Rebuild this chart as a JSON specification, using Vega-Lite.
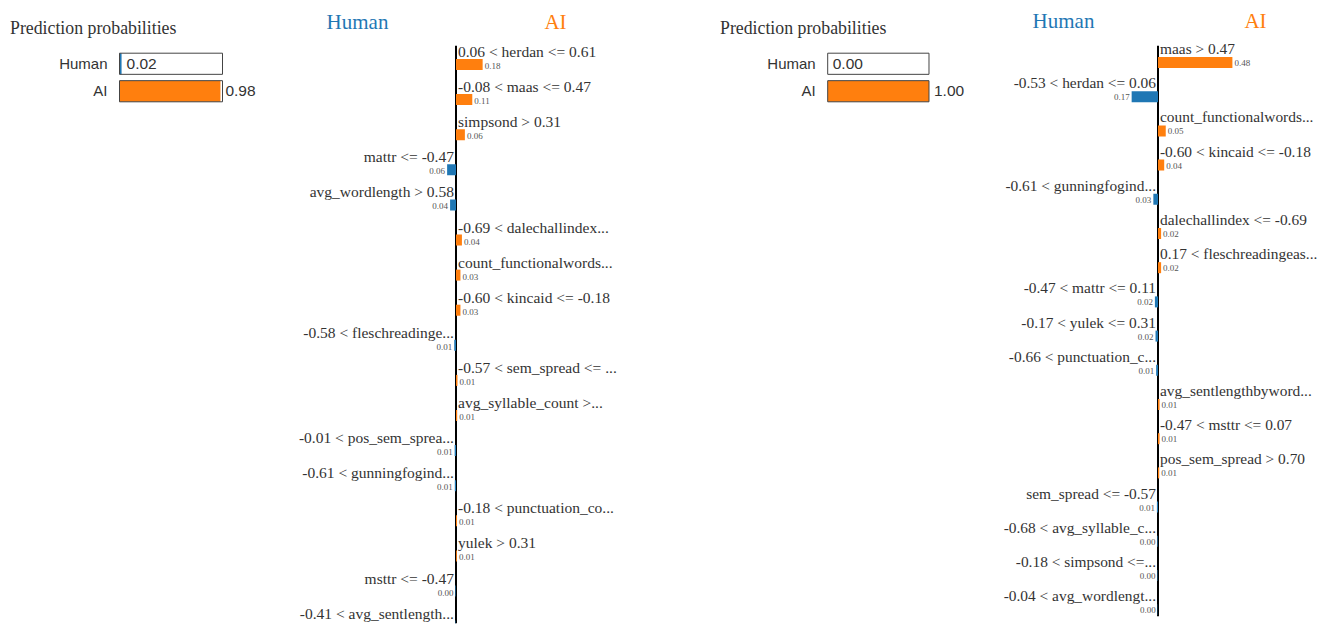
{
  "$schema": "https://vega.github.io/schema/vega-lite/v6.json",
  "background": "white",
  "padding": {"left": 0, "top": 9.5, "right": 0, "bottom": 0},
  "spacing": 0,
  "bounds": "flush",
  "config": {"view": {"stroke": null}, "scale": {"continuousPadding": 0}},
  "datasets": {
    "probs1": [
      {"class": "Human", "prob": 0.02},
      {"class": "AI", "prob": 0.98}
    ],
    "probs2": [
      {"class": "Human", "prob": 0.0},
      {"class": "AI", "prob": 1.0}
    ],
    "weights1": [
      {"rank": 1, "feature": "0.06 < herdan <= 0.61", "side": "AI", "value": 0.18},
      {"rank": 2, "feature": "-0.08 < maas <= 0.47", "side": "AI", "value": 0.11},
      {"rank": 3, "feature": "simpsond > 0.31", "side": "AI", "value": 0.06},
      {"rank": 4, "feature": "mattr <= -0.47", "side": "Human", "value": 0.06},
      {"rank": 5, "feature": "avg_wordlength > 0.58", "side": "Human", "value": 0.04},
      {"rank": 6, "feature": "-0.69 < dalechallindex...", "side": "AI", "value": 0.04},
      {"rank": 7, "feature": "count_functionalwords...", "side": "AI", "value": 0.03},
      {"rank": 8, "feature": "-0.60 < kincaid <= -0.18", "side": "AI", "value": 0.03},
      {"rank": 9, "feature": "-0.58 < fleschreadinge...", "side": "Human", "value": 0.012},
      {"rank": 10, "feature": "-0.57 < sem_spread <= ...", "side": "AI", "value": 0.01},
      {"rank": 11, "feature": "avg_syllable_count >...", "side": "AI", "value": 0.008},
      {"rank": 12, "feature": "-0.01 < pos_sem_sprea...", "side": "Human", "value": 0.009},
      {"rank": 13, "feature": "-0.61 < gunningfogind...", "side": "Human", "value": 0.008},
      {"rank": 14, "feature": "-0.18 < punctuation_co...", "side": "AI", "value": 0.007},
      {"rank": 15, "feature": "yulek > 0.31", "side": "AI", "value": 0.006},
      {"rank": 16, "feature": "msttr <= -0.47", "side": "Human", "value": 0.004},
      {"rank": 17, "feature": "-0.41 < avg_sentlength...", "side": "Human", "value": 0.003}
    ],
    "weights2": [
      {"rank": 1, "feature": "maas > 0.47", "side": "AI", "value": 0.48},
      {"rank": 2, "feature": "-0.53 < herdan <= 0.06", "side": "Human", "value": 0.17},
      {"rank": 3, "feature": "count_functionalwords...", "side": "AI", "value": 0.05},
      {"rank": 4, "feature": "-0.60 < kincaid <= -0.18", "side": "AI", "value": 0.04},
      {"rank": 5, "feature": "-0.61 < gunningfogind...", "side": "Human", "value": 0.03},
      {"rank": 6, "feature": "dalechallindex <= -0.69", "side": "AI", "value": 0.02},
      {"rank": 7, "feature": "0.17 < fleschreadingeas...", "side": "AI", "value": 0.02},
      {"rank": 8, "feature": "-0.47 < mattr <= 0.11", "side": "Human", "value": 0.02},
      {"rank": 9, "feature": "-0.17 < yulek <= 0.31", "side": "Human", "value": 0.016},
      {"rank": 10, "feature": "-0.66 < punctuation_c...", "side": "Human", "value": 0.012},
      {"rank": 11, "feature": "avg_sentlengthbyword...", "side": "AI", "value": 0.01},
      {"rank": 12, "feature": "-0.47 < msttr <= 0.07", "side": "AI", "value": 0.01},
      {"rank": 13, "feature": "pos_sem_spread > 0.70", "side": "AI", "value": 0.008},
      {"rank": 14, "feature": "sem_spread <= -0.57", "side": "Human", "value": 0.007},
      {"rank": 15, "feature": "-0.68 < avg_syllable_c...", "side": "Human", "value": 0.004},
      {"rank": 16, "feature": "-0.18 < simpsond <=...", "side": "Human", "value": 0.003},
      {"rank": 17, "feature": "-0.04 < avg_wordlengt...", "side": "Human", "value": 0.002}
    ]
  },
  "hconcat": [
    {
      "width": 290,
      "height": 64,
      "title": {"text": "Prediction probabilities", "anchor": "start", "dx": 10, "offset": 8, "font": "Liberation Serif", "fontSize": 17.8, "fontWeight": "normal", "color": "#333"},
      "data": {"name": "probs1"},
      "layer": [
        {
          "mark": {"type": "bar", "orient": "horizontal"},
          "encoding": {
            "y": {"field": "class", "type": "nominal", "sort": ["Human", "AI"], "scale": {"paddingInner": 0.23, "paddingOuter": 0.28}, "axis": null},
            "x": {"field": "prob", "type": "quantitative", "scale": {"domain": [-1.1602, 1.6553], "nice": false, "zero": false}, "axis": null},
            "x2": {"datum": 0},
            "color": {"field": "class", "type": "nominal", "scale": {"domain": ["Human", "AI"], "range": ["#1f77b4", "#ff7f0e"]}, "legend": null}
          }
        },
        {
          "mark": {"type": "bar", "orient": "horizontal", "fill": "transparent", "stroke": "#444", "strokeWidth": 1},
          "encoding": {
            "y": {"field": "class", "type": "nominal", "sort": ["Human", "AI"], "scale": {"paddingInner": 0.23, "paddingOuter": 0.28}, "axis": null},
            "x": {"datum": 0, "type": "quantitative", "scale": {"domain": [-1.1602, 1.6553], "nice": false, "zero": false}, "axis": null},
            "x2": {"datum": 1}
          }
        },
        {
          "mark": {"type": "text", "align": "right", "baseline": "middle", "dx": -12, "font": "Liberation Sans", "fontSize": 15, "color": "#333"},
          "encoding": {
            "y": {"field": "class", "type": "nominal", "sort": ["Human", "AI"], "scale": {"paddingInner": 0.23, "paddingOuter": 0.28}, "axis": null},
            "x": {"datum": 0, "type": "quantitative", "scale": {"domain": [-1.1602, 1.6553], "nice": false, "zero": false}, "axis": null},
            "text": {"field": "class"}
          }
        },
        {
          "mark": {"type": "text", "align": "left", "baseline": "middle", "dx": 5, "font": "Liberation Sans", "fontSize": 15.5, "color": "#333"},
          "encoding": {
            "y": {"field": "class", "type": "nominal", "sort": ["Human", "AI"], "scale": {"paddingInner": 0.23, "paddingOuter": 0.28}, "axis": null},
            "x": {"field": "prob", "type": "quantitative", "scale": {"domain": [-1.1602, 1.6553], "nice": false, "zero": false}, "axis": null},
            "text": {"field": "prob", "format": ".2f"}
          }
        }
      ]
    },
    {
      "width": 420,
      "height": 578,
      "data": {"name": "weights1"},
      "resolve": {"scale": {"x": "independent"}},
      "layer": [
        {
          "data": {"values": [{}]},
          "mark": {"type": "rule", "color": "#000", "strokeWidth": 2, "clip": true},
          "encoding": {
            "x": {"datum": 0, "type": "quantitative", "scale": {"domain": [-1.1216, 1.7162], "nice": false, "zero": false},
              "axis": {"orient": "top", "values": [-0.669, 0.669], "labelExpr": "datum.value < 0 ? 'Human' : 'AI'", "domain": false, "ticks": false, "tickSize": 0, "grid": false, "title": null, "labelFont": "Liberation Serif", "labelFontSize": 21, "labelPadding": 13, "labelFlush": false, "labelOverlap": false, "labelBound": false,
                "labelColor": {"condition": {"test": "datum.value < 0", "value": "#1f77b4"}, "value": "#ff7f0e"}}}
          }
        },
        {
          "transform": [{"filter": "datum.side == 'AI'"}],
          "mark": {"type": "bar", "orient": "horizontal", "size": 11, "yOffset": 12.5, "color": "#ff7f0e", "clip": true},
          "encoding": {
            "x": {"field": "value", "type": "quantitative", "scale": {"domain": [-1.1216, 1.7162], "nice": false, "zero": false}, "axis": null},
            "x2": {"datum": 0},
            "y": {"field": "rank", "type": "quantitative", "scale": {"domain": [0.8148, 17.282], "nice": false, "zero": false, "padding": 0, "reverse": true}, "axis": null}
          }
        },
        {
          "transform": [{"filter": "datum.side == 'Human'"}],
          "mark": {"type": "bar", "orient": "horizontal", "size": 11, "yOffset": 12.5, "color": "#1f77b4", "clip": true},
          "encoding": {
            "x": {"field": "value", "type": "quantitative", "scale": {"domain": [-1.7162, 1.1216], "nice": false, "zero": false, "reverse": true}, "axis": null},
            "x2": {"datum": 0},
            "y": {"field": "rank", "type": "quantitative", "scale": {"domain": [0.8148, 17.282], "nice": false, "zero": false, "padding": 0, "reverse": true}, "axis": null}
          }
        },
        {
          "transform": [{"filter": "datum.side == 'AI'"}],
          "mark": {"type": "text", "align": "left", "baseline": "middle", "dx": 2, "font": "Liberation Serif", "fontSize": 15.5, "color": "#333", "clip": true},
          "encoding": {
            "x": {"datum": 0, "type": "quantitative", "scale": {"domain": [-1.1216, 1.7162], "nice": false, "zero": false}, "axis": null},
            "y": {"field": "rank", "type": "quantitative", "scale": {"domain": [0.8148, 17.282], "nice": false, "zero": false, "padding": 0, "reverse": true}, "axis": null},
            "text": {"field": "feature"}
          }
        },
        {
          "transform": [{"filter": "datum.side == 'Human'"}],
          "mark": {"type": "text", "align": "right", "baseline": "middle", "dx": -2, "font": "Liberation Serif", "fontSize": 15.5, "color": "#333", "clip": true},
          "encoding": {
            "x": {"datum": 0, "type": "quantitative", "scale": {"domain": [-1.7162, 1.1216], "nice": false, "zero": false, "reverse": true}, "axis": null},
            "y": {"field": "rank", "type": "quantitative", "scale": {"domain": [0.8148, 17.282], "nice": false, "zero": false, "padding": 0, "reverse": true}, "axis": null},
            "text": {"field": "feature"}
          }
        },
        {
          "transform": [{"filter": "datum.side == 'AI'"}],
          "mark": {"type": "text", "align": "left", "baseline": "middle", "dx": 2, "yOffset": 14, "font": "Liberation Serif", "fontSize": 9, "color": "#555", "clip": true},
          "encoding": {
            "x": {"field": "value", "type": "quantitative", "scale": {"domain": [-1.1216, 1.7162], "nice": false, "zero": false}, "axis": null},
            "y": {"field": "rank", "type": "quantitative", "scale": {"domain": [0.8148, 17.282], "nice": false, "zero": false, "padding": 0, "reverse": true}, "axis": null},
            "text": {"field": "value", "format": ".2f"}
          }
        },
        {
          "transform": [{"filter": "datum.side == 'Human'"}],
          "mark": {"type": "text", "align": "right", "baseline": "middle", "dx": -2, "yOffset": 14, "font": "Liberation Serif", "fontSize": 9, "color": "#555", "clip": true},
          "encoding": {
            "x": {"field": "value", "type": "quantitative", "scale": {"domain": [-1.7162, 1.1216], "nice": false, "zero": false, "reverse": true}, "axis": null},
            "y": {"field": "rank", "type": "quantitative", "scale": {"domain": [0.8148, 17.282], "nice": false, "zero": false, "padding": 0, "reverse": true}, "axis": null},
            "text": {"field": "value", "format": ".2f"}
          }
        }
      ]
    },
    {
      "width": 280,
      "height": 64,
      "title": {"text": "Prediction probabilities", "anchor": "start", "dx": 10, "offset": 8, "font": "Liberation Serif", "fontSize": 17.8, "fontWeight": "normal", "color": "#333"},
      "data": {"name": "probs2"},
      "layer": [
        {
          "mark": {"type": "bar", "orient": "horizontal"},
          "encoding": {
            "y": {"field": "class", "type": "nominal", "sort": ["Human", "AI"], "scale": {"paddingInner": 0.23, "paddingOuter": 0.28}, "axis": null},
            "x": {"field": "prob", "type": "quantitative", "scale": {"domain": [-1.1619, 1.6022], "nice": false, "zero": false}, "axis": null},
            "x2": {"datum": 0},
            "color": {"field": "class", "type": "nominal", "scale": {"domain": ["Human", "AI"], "range": ["#1f77b4", "#ff7f0e"]}, "legend": null}
          }
        },
        {
          "mark": {"type": "bar", "orient": "horizontal", "fill": "transparent", "stroke": "#444", "strokeWidth": 1},
          "encoding": {
            "y": {"field": "class", "type": "nominal", "sort": ["Human", "AI"], "scale": {"paddingInner": 0.23, "paddingOuter": 0.28}, "axis": null},
            "x": {"datum": 0, "type": "quantitative", "scale": {"domain": [-1.1619, 1.6022], "nice": false, "zero": false}, "axis": null},
            "x2": {"datum": 1}
          }
        },
        {
          "mark": {"type": "text", "align": "right", "baseline": "middle", "dx": -12, "font": "Liberation Sans", "fontSize": 15, "color": "#333"},
          "encoding": {
            "y": {"field": "class", "type": "nominal", "sort": ["Human", "AI"], "scale": {"paddingInner": 0.23, "paddingOuter": 0.28}, "axis": null},
            "x": {"datum": 0, "type": "quantitative", "scale": {"domain": [-1.1619, 1.6022], "nice": false, "zero": false}, "axis": null},
            "text": {"field": "class"}
          }
        },
        {
          "mark": {"type": "text", "align": "left", "baseline": "middle", "dx": 5, "font": "Liberation Sans", "fontSize": 15.5, "color": "#333"},
          "encoding": {
            "y": {"field": "class", "type": "nominal", "sort": ["Human", "AI"], "scale": {"paddingInner": 0.23, "paddingOuter": 0.28}, "axis": null},
            "x": {"field": "prob", "type": "quantitative", "scale": {"domain": [-1.1619, 1.6022], "nice": false, "zero": false}, "axis": null},
            "text": {"field": "prob", "format": ".2f"}
          }
        }
      ]
    },
    {
      "width": 330,
      "height": 571,
      "data": {"name": "weights2"},
      "resolve": {"scale": {"x": "independent"}},
      "layer": [
        {
          "data": {"values": [{}]},
          "mark": {"type": "rule", "color": "#000", "strokeWidth": 2, "clip": true},
          "encoding": {
            "x": {"datum": 0, "type": "quantitative", "scale": {"domain": [-1.0839, 1.0452], "nice": false, "zero": false},
              "axis": {"orient": "top", "values": [-0.613, 0.626], "labelExpr": "datum.value < 0 ? 'Human' : 'AI'", "domain": false, "ticks": false, "tickSize": 0, "grid": false, "title": null, "labelFont": "Liberation Serif", "labelFontSize": 21, "labelPadding": 14.5, "labelFlush": false, "labelOverlap": false, "labelBound": false,
                "labelColor": {"condition": {"test": "datum.value < 0", "value": "#1f77b4"}, "value": "#ff7f0e"}}}
          }
        },
        {
          "transform": [{"filter": "datum.side == 'AI'"}],
          "mark": {"type": "bar", "orient": "horizontal", "size": 11, "yOffset": 13.5, "color": "#ff7f0e", "clip": true},
          "encoding": {
            "x": {"field": "value", "type": "quantitative", "scale": {"domain": [-1.0839, 1.0452], "nice": false, "zero": false}, "axis": null},
            "x2": {"datum": 0},
            "y": {"field": "rank", "type": "quantitative", "scale": {"domain": [0.8977, 17.594], "nice": false, "zero": false, "padding": 0, "reverse": true}, "axis": null}
          }
        },
        {
          "transform": [{"filter": "datum.side == 'Human'"}],
          "mark": {"type": "bar", "orient": "horizontal", "size": 11, "yOffset": 13.5, "color": "#1f77b4", "clip": true},
          "encoding": {
            "x": {"field": "value", "type": "quantitative", "scale": {"domain": [-1.0452, 1.0839], "nice": false, "zero": false, "reverse": true}, "axis": null},
            "x2": {"datum": 0},
            "y": {"field": "rank", "type": "quantitative", "scale": {"domain": [0.8977, 17.594], "nice": false, "zero": false, "padding": 0, "reverse": true}, "axis": null}
          }
        },
        {
          "transform": [{"filter": "datum.side == 'AI'"}],
          "mark": {"type": "text", "align": "left", "baseline": "middle", "dx": 2, "font": "Liberation Serif", "fontSize": 15.4, "color": "#333"},
          "encoding": {
            "x": {"datum": 0, "type": "quantitative", "scale": {"domain": [-1.0839, 1.0452], "nice": false, "zero": false}, "axis": null},
            "y": {"field": "rank", "type": "quantitative", "scale": {"domain": [0.8977, 17.594], "nice": false, "zero": false, "padding": 0, "reverse": true}, "axis": null},
            "text": {"field": "feature"}
          }
        },
        {
          "transform": [{"filter": "datum.side == 'Human'"}],
          "mark": {"type": "text", "align": "right", "baseline": "middle", "dx": -2, "font": "Liberation Serif", "fontSize": 15.4, "color": "#333"},
          "encoding": {
            "x": {"datum": 0, "type": "quantitative", "scale": {"domain": [-1.0452, 1.0839], "nice": false, "zero": false, "reverse": true}, "axis": null},
            "y": {"field": "rank", "type": "quantitative", "scale": {"domain": [0.8977, 17.594], "nice": false, "zero": false, "padding": 0, "reverse": true}, "axis": null},
            "text": {"field": "feature"}
          }
        },
        {
          "transform": [{"filter": "datum.side == 'AI'"}],
          "mark": {"type": "text", "align": "left", "baseline": "middle", "dx": 2, "yOffset": 14, "font": "Liberation Serif", "fontSize": 9, "color": "#555"},
          "encoding": {
            "x": {"field": "value", "type": "quantitative", "scale": {"domain": [-1.0839, 1.0452], "nice": false, "zero": false}, "axis": null},
            "y": {"field": "rank", "type": "quantitative", "scale": {"domain": [0.8977, 17.594], "nice": false, "zero": false, "padding": 0, "reverse": true}, "axis": null},
            "text": {"field": "value", "format": ".2f"}
          }
        },
        {
          "transform": [{"filter": "datum.side == 'Human'"}],
          "mark": {"type": "text", "align": "right", "baseline": "middle", "dx": -2, "yOffset": 14, "font": "Liberation Serif", "fontSize": 9, "color": "#555"},
          "encoding": {
            "x": {"field": "value", "type": "quantitative", "scale": {"domain": [-1.0452, 1.0839], "nice": false, "zero": false, "reverse": true}, "axis": null},
            "y": {"field": "rank", "type": "quantitative", "scale": {"domain": [0.8977, 17.594], "nice": false, "zero": false, "padding": 0, "reverse": true}, "axis": null},
            "text": {"field": "value", "format": ".2f"}
          }
        }
      ]
    }
  ]
}
